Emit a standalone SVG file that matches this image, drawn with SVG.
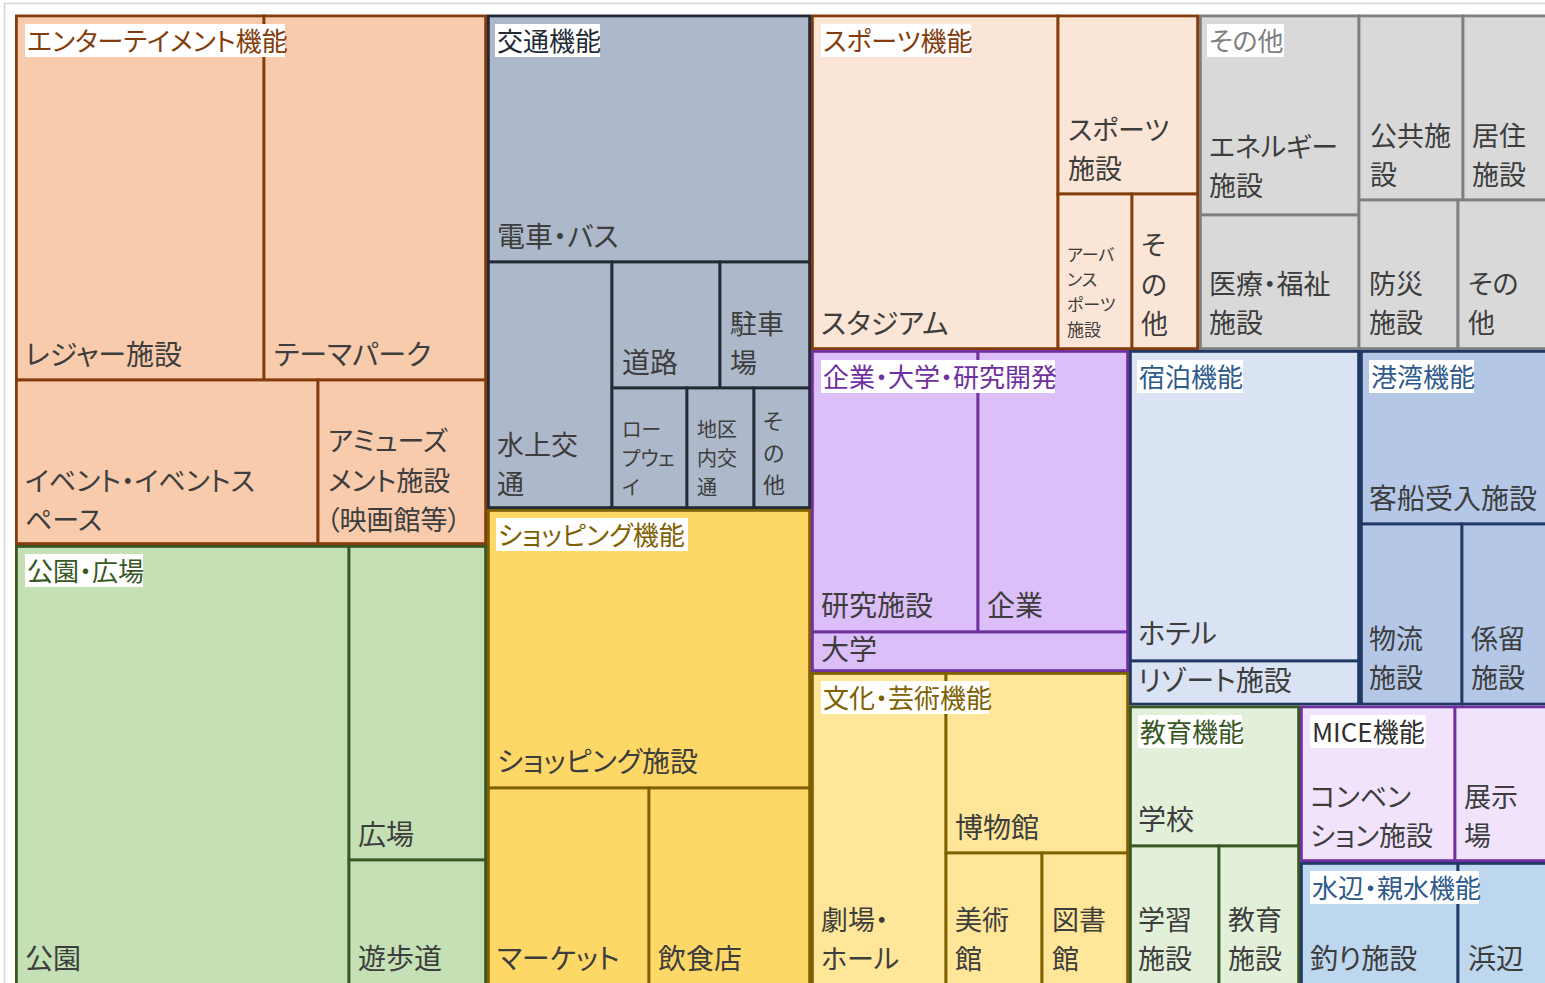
<svg xmlns="http://www.w3.org/2000/svg" width="1545" height="983" viewBox="0 0 1545 983">
<style>
text { font-family: "Noto Sans CJK JP", "Noto Sans", sans-serif; font-feature-settings: "palt" 1; }
.lbl { font-size: 28px; fill: #3d3d3d; }
.ml { font-size: 27px; }
.sm17 { font-size: 17px; }
.sm20 { font-size: 20px; }
.sm22 { font-size: 22px; }
.hdr { font-size: 26px; }
.hbox { fill: #ffffff; }
rect.c { stroke-width: 2.8; }
.ent rect.c { fill: #F8CBAD; stroke: #843C0C; }
.spo rect.c { fill: #FBE5D6; stroke: #843C0C; }
.ent .hdr, .spo .hdr { fill: #843C0C; }
.tra rect.c { fill: #ADB9CA; stroke: #222A35; }
.tra .hdr { fill: #222A35; }
.oth rect.c { fill: #D9D9D9; stroke: #7F7F7F; }
.oth .hdr { fill: #7F7F7F; }
.rnd rect.c { fill: #DCBEF9; stroke: #7030A0; }
.rnd .hdr { fill: #7030A0; }
.mic rect.c { fill: #F1E3FC; stroke: #7030A0; }
.mic .hdr { fill: #303030; }
.lod rect.c { fill: #DAE3F3; stroke: #1F3864; }
.por rect.c { fill: #B4C7E7; stroke: #1F3864; }
.wat rect.c { fill: #BDD7EE; stroke: #1F3864; }
.lod .hdr, .por .hdr, .wat .hdr { fill: #2E5A8C; }
.sho rect.c { fill: #FDD867; stroke: #7F6000; }
.cul rect.c { fill: #FFE699; stroke: #7F6000; }
.sho .hdr, .cul .hdr { fill: #7F6000; }
.par rect.c { fill: #C5E0B4; stroke: #385723; }
.edu rect.c { fill: #E2F0D9; stroke: #385723; }
.par .hdr, .edu .hdr { fill: #385723; }
.frame { stroke: #d6d6d6; stroke-width: 1.5; fill: none; }
</style>
<rect x="0" y="0" width="1545" height="983" fill="#ffffff"/>
<g id="frame">
<line class="frame" x1="4" y1="3.5" x2="1545" y2="3.5"/>
<line class="frame" x1="4.5" y1="3" x2="4.5" y2="983"/>
</g>

<!-- エンターテイメント機能 -->
<g id="g-entertainment" class="ent">
<g id="leaf-leisure"><rect class="c" x="16.4" y="15.9" width="247.6" height="364.1"/><text class="lbl" x="25" y="365">レジャー施設</text></g>
<g id="leaf-themepark"><rect class="c" x="264" y="15.9" width="221.6" height="364.1"/><text class="lbl" x="274" y="365">テーマパーク</text></g>
<g id="leaf-event"><rect class="c" x="16.4" y="380" width="301.6" height="163.6"/><text class="lbl ml" x="25" y="490.5"><tspan x="25">イベント・イベントス</tspan><tspan x="25" dy="39.5">ペース</tspan></text></g>
<g id="leaf-amusement"><rect class="c" x="318" y="380" width="167.6" height="163.6"/><text class="lbl ml" x="328" y="451"><tspan x="328">アミューズ</tspan><tspan x="328" dy="39.5">メント施設</tspan><tspan x="326" dy="39.5">（映画館等）</tspan></text></g>
<rect class="hbox" x="25" y="24" width="260" height="33"/><text class="hdr" x="27" y="51">エンターテイメント機能</text>
</g>

<!-- 公園・広場 -->
<g id="g-park" class="par">
<g id="leaf-park"><rect class="c" x="16.4" y="546.4" width="332.6" height="450"/><text class="lbl" x="25" y="969">公園</text></g>
<g id="leaf-plaza"><rect class="c" x="349" y="546.4" width="136.6" height="313.6"/><text class="lbl" x="358" y="845">広場</text></g>
<g id="leaf-promenade"><rect class="c" x="349" y="860" width="136.6" height="135"/><text class="lbl" x="358" y="969">遊歩道</text></g>
<rect class="hbox" x="25" y="554" width="118" height="33"/><text class="hdr" x="27" y="581">公園・広場</text>
</g>

<!-- 交通機能 -->
<g id="g-transport" class="tra">
<g id="leaf-train"><rect class="c" x="488.4" y="15.9" width="321.2" height="246.1"/><text class="lbl" x="497" y="247">電車・バス</text></g>
<g id="leaf-water"><rect class="c" x="488.4" y="262" width="123.6" height="245.6"/><text class="lbl ml" x="497" y="454.5"><tspan x="497">水上交</tspan><tspan x="497" dy="39.5">通</tspan></text></g>
<g id="leaf-road"><rect class="c" x="612" y="262" width="108" height="126"/><text class="lbl" x="622" y="373">道路</text></g>
<g id="leaf-parking"><rect class="c" x="720" y="262" width="89.6" height="126"/><text class="lbl ml" x="730" y="333.5"><tspan x="730">駐車</tspan><tspan x="730" dy="39.5">場</tspan></text></g>
<g id="leaf-ropeway"><rect class="c" x="612" y="388" width="75" height="119.6"/><text class="lbl sm20" x="622" y="437"><tspan x="622">ロー</tspan><tspan x="622" dy="29">プウェ</tspan><tspan x="622" dy="29">イ</tspan></text></g>
<g id="leaf-district"><rect class="c" x="687" y="388" width="67" height="119.6"/><text class="lbl sm20" x="697" y="437"><tspan x="697">地区</tspan><tspan x="697" dy="29">内交</tspan><tspan x="697" dy="29">通</tspan></text></g>
<g id="leaf-tra-other"><rect class="c" x="754" y="388" width="55.6" height="119.6"/><text class="lbl sm22" x="763" y="429"><tspan x="763">そ</tspan><tspan x="763" dy="32">の</tspan><tspan x="763" dy="32">他</tspan></text></g>
<rect class="hbox" x="495" y="24" width="105" height="33"/><text class="hdr" x="497" y="51">交通機能</text>
</g>

<!-- ショッピング機能 -->
<g id="g-shopping" class="sho">
<g id="leaf-shop"><rect class="c" x="488.4" y="510.4" width="321.2" height="277.6"/><text class="lbl" x="497" y="772">ショッピング施設</text></g>
<g id="leaf-market"><rect class="c" x="488.4" y="788" width="160.6" height="207"/><text class="lbl" x="497" y="969">マーケット</text></g>
<g id="leaf-restaurant"><rect class="c" x="649" y="788" width="160.6" height="207"/><text class="lbl" x="658" y="969">飲食店</text></g>
<rect class="hbox" x="496" y="518" width="192" height="33"/><text class="hdr" x="498" y="545">ショッピング機能</text>
</g>

<!-- スポーツ機能 -->
<g id="g-sports" class="spo">
<g id="leaf-stadium"><rect class="c" x="812.4" y="15.9" width="245.6" height="332.7"/><text class="lbl" x="821" y="334">スタジアム</text></g>
<g id="leaf-sportsfac"><rect class="c" x="1058" y="15.9" width="139.6" height="178.1"/><text class="lbl ml" x="1068" y="139.5"><tspan x="1068">スポーツ</tspan><tspan x="1068" dy="39.5">施設</tspan></text></g>
<g id="leaf-urban"><rect class="c" x="1058" y="194" width="74" height="154.6"/><text class="lbl sm17" x="1067" y="260.5"><tspan x="1067">アーバ</tspan><tspan x="1067" dy="25">ンス</tspan><tspan x="1067" dy="25">ポーツ</tspan><tspan x="1067" dy="25">施設</tspan></text></g>
<g id="leaf-spo-other"><rect class="c" x="1132" y="194" width="65.6" height="154.6"/><text class="lbl ml" x="1141" y="255"><tspan x="1141">そ</tspan><tspan x="1141" dy="39.5">の</tspan><tspan x="1141" dy="39.5">他</tspan></text></g>
<rect class="hbox" x="821" y="24" width="150" height="33"/><text class="hdr" x="823" y="51">スポーツ機能</text>
</g>

<!-- その他 -->
<g id="g-other" class="oth">
<g id="leaf-energy"><rect class="c" x="1200.4" y="15.9" width="158.6" height="199.1"/><text class="lbl ml" x="1209" y="156.5"><tspan x="1209">エネルギー</tspan><tspan x="1209" dy="39.5">施設</tspan></text></g>
<g id="leaf-medical"><rect class="c" x="1200.4" y="215" width="158.6" height="133.6"/><text class="lbl ml" x="1209" y="293.5"><tspan x="1209">医療・福祉</tspan><tspan x="1209" dy="39.5">施設</tspan></text></g>
<g id="leaf-public"><rect class="c" x="1359" y="15.9" width="104" height="184.1"/><text class="lbl ml" x="1370" y="145.5"><tspan x="1370">公共施</tspan><tspan x="1370" dy="39.5">設</tspan></text></g>
<g id="leaf-housing"><rect class="c" x="1463" y="15.9" width="92" height="184.1"/><text class="lbl ml" x="1472" y="145.5"><tspan x="1472">居住</tspan><tspan x="1472" dy="39.5">施設</tspan></text></g>
<g id="leaf-disaster"><rect class="c" x="1359" y="200" width="99" height="148.6"/><text class="lbl ml" x="1369" y="293.5"><tspan x="1369">防災</tspan><tspan x="1369" dy="39.5">施設</tspan></text></g>
<g id="leaf-oth-other"><rect class="c" x="1458" y="200" width="97" height="148.6"/><text class="lbl ml" x="1468" y="293.5"><tspan x="1468">その</tspan><tspan x="1468" dy="39.5">他</tspan></text></g>
<rect class="hbox" x="1207" y="24" width="77" height="33"/><text class="hdr" x="1209" y="51">その他</text>
</g>

<!-- 企業・大学・研究開発 -->
<g id="g-rnd" class="rnd">
<g id="leaf-research"><rect class="c" x="812.4" y="351.4" width="165.6" height="280.6"/><text class="lbl" x="821" y="616">研究施設</text></g>
<g id="leaf-company"><rect class="c" x="978" y="351.4" width="149.6" height="280.6"/><text class="lbl" x="987" y="616">企業</text></g>
<g id="leaf-university"><rect class="c" x="812.4" y="632" width="315.2" height="38.6"/><text class="lbl" x="821" y="660">大学</text></g>
<rect class="hbox" x="821" y="360" width="234" height="33"/><text class="hdr" x="823" y="387">企業・大学・研究開発</text>
</g>

<!-- 文化・芸術機能 -->
<g id="g-culture" class="cul">
<g id="leaf-theater"><rect class="c" x="812.4" y="673.4" width="133.6" height="321.6"/><text class="lbl ml" x="821" y="929.5"><tspan x="821">劇場・</tspan><tspan x="821" dy="39.5">ホール</tspan></text></g>
<g id="leaf-museum"><rect class="c" x="946" y="673.4" width="181.6" height="179.6"/><text class="lbl" x="955" y="838">博物館</text></g>
<g id="leaf-artmuseum"><rect class="c" x="946" y="853" width="96" height="142"/><text class="lbl ml" x="955" y="929.5"><tspan x="955">美術</tspan><tspan x="955" dy="39.5">館</tspan></text></g>
<g id="leaf-library"><rect class="c" x="1042" y="853" width="85.6" height="142"/><text class="lbl ml" x="1052" y="929.5"><tspan x="1052">図書</tspan><tspan x="1052" dy="39.5">館</tspan></text></g>
<rect class="hbox" x="821" y="681" width="168" height="33"/><text class="hdr" x="823" y="708">文化・芸術機能</text>
</g>

<!-- 宿泊機能 -->
<g id="g-lodging" class="lod">
<g id="leaf-hotel"><rect class="c" x="1130.4" y="351.4" width="228.2" height="309.6"/><text class="lbl" x="1138" y="644">ホテル</text></g>
<g id="leaf-resort"><rect class="c" x="1130.4" y="661" width="228.2" height="43.1"/><text class="lbl" x="1138" y="691">リゾート施設</text></g>
<rect class="hbox" x="1137" y="360" width="106" height="33"/><text class="hdr" x="1139" y="387">宿泊機能</text>
</g>

<!-- 港湾機能 -->
<g id="g-port" class="por">
<g id="leaf-passenger"><rect class="c" x="1361.4" y="351.4" width="193.6" height="172.6"/><text class="lbl" x="1369" y="509">客船受入施設</text></g>
<g id="leaf-logistics"><rect class="c" x="1361.4" y="524" width="100.6" height="180.1"/><text class="lbl ml" x="1369" y="648.5"><tspan x="1369">物流</tspan><tspan x="1369" dy="39.5">施設</tspan></text></g>
<g id="leaf-mooring"><rect class="c" x="1462" y="524" width="93" height="180.1"/><text class="lbl ml" x="1471" y="648.5"><tspan x="1471">係留</tspan><tspan x="1471" dy="39.5">施設</tspan></text></g>
<rect class="hbox" x="1369" y="360" width="105" height="33"/><text class="hdr" x="1371" y="387">港湾機能</text>
</g>

<!-- 教育機能 -->
<g id="g-education" class="edu">
<g id="leaf-school"><rect class="c" x="1130.4" y="706.9" width="168.2" height="139.1"/><text class="lbl" x="1138" y="830">学校</text></g>
<g id="leaf-learning"><rect class="c" x="1130.4" y="846" width="88.6" height="149"/><text class="lbl ml" x="1138" y="929.5"><tspan x="1138">学習</tspan><tspan x="1138" dy="39.5">施設</tspan></text></g>
<g id="leaf-eduinst"><rect class="c" x="1219" y="846" width="79.6" height="149"/><text class="lbl ml" x="1228" y="929.5"><tspan x="1228">教育</tspan><tspan x="1228" dy="39.5">施設</tspan></text></g>
<rect class="hbox" x="1138" y="715" width="104" height="33"/><text class="hdr" x="1140" y="742">教育機能</text>
</g>

<!-- 水辺・親水機能 -->
<g id="g-waterfront" class="wat">
<g id="leaf-fishing"><rect class="c" x="1301.4" y="863.4" width="156.6" height="131.6"/><text class="lbl" x="1310" y="969">釣り施設</text></g>
<g id="leaf-beach"><rect class="c" x="1458" y="863.4" width="97" height="131.6"/><text class="lbl" x="1468" y="969">浜辺</text></g>
<rect class="hbox" x="1310" y="871" width="169" height="33"/><text class="hdr" x="1312" y="898">水辺・親水機能</text>
</g>

<!-- MICE機能 -->
<g id="g-mice" class="mic">
<g id="leaf-convention"><rect class="c" x="1301.4" y="706.9" width="153.6" height="153.7"/><text class="lbl ml" x="1310" y="806.5"><tspan x="1310">コンベン</tspan><tspan x="1310" dy="39.5">ション施設</tspan></text></g>
<g id="leaf-exhibition"><rect class="c" x="1455" y="706.9" width="100" height="153.7"/><text class="lbl ml" x="1464" y="806.5"><tspan x="1464">展示</tspan><tspan x="1464" dy="39.5">場</tspan></text></g>
<rect class="hbox" x="1310" y="715" width="116" height="33"/><text class="hdr" x="1312" y="742">MICE機能</text>
</g>
</svg>
